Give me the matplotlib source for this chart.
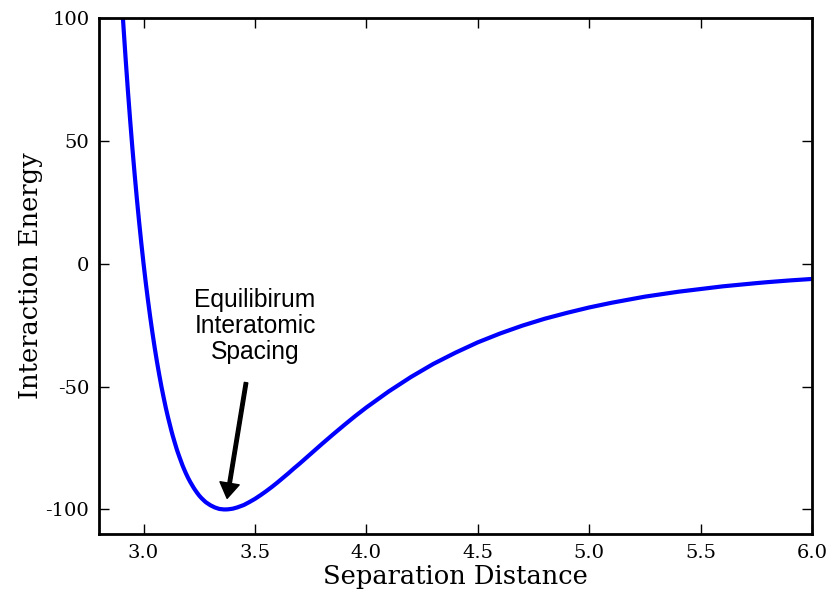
import matplotlib
matplotlib.use("Agg")
import matplotlib.pyplot as plt

# Interaction energy
separation = [2.88, 2.90, 2.91, 2.92, 2.93, 2.94, 2.95, 2.96, 2.97, 2.98, 2.99,
              3.00, 3.01, 3.02, 3.03, 3.04, 3.05, 3.06, 3.07, 3.08, 3.09,
              3.10, 3.11, 3.125, 3.13, 3.14, 3.15, 3.16, 3.175, 3.18, 3.19,
              3.20, 3.21, 3.225, 3.23, 3.24, 3.25, 3.26, 3.275, 3.28, 3.30,
              3.32, 3.34, 3.35, 3.36, 3.37, 3.38, 3.40, 3.42, 3.45, 3.475,
              3.50, 3.525, 3.55, 3.575, 3.60, 3.625, 3.65, 3.675, 3.70, 3.75,
              3.80, 3.85, 3.90, 3.95, 4.00, 4.10, 4.20, 4.30, 4.40, 4.50,
              4.60, 4.70, 4.80, 4.90, 5.00, 5.10, 5.25, 5.40, 5.50, 5.60,
              5.75, 5.80, 5.90, 6.00]
energy = [141.8, 110.6, 96.3, 82.8, 70.1, 58.2, 46.9, 36.4, 26.4, 17.1, 8.3,
          0.0, -7.8, -15.0, -21.8, -28.2, -34.2, -39.8, -45.0, -49.9, -54.4,
          -58.7, -62.6, -68.0, -69.7, -72.8, -75.8, -78.4, -82.1, -83.2, -85.3,
          -87.2, -88.9, -91.2, -91.9, -93.2, -94.4, -95.4, -96.7, -97.1, -98.3,
          -99.2, -99.8, -99.9, -100.0, -100.0, -99.95, -99.7, -99.2, -98.2, -97.0,
          -95.7, -94.2, -92.6, -90.9, -89.1, -87.2, -85.3, -83.3, -81.4, -77.4,
          -73.4, -69.5, -65.7, -62.0, -58.5, -52.0, -46.1, -40.8, -36.2, -32.0,
          -28.4, -25.2, -22.4, -20.0, -17.8, -15.9, -13.4, -11.4, -10.3, -9.2,
          -7.9, -7.5, -6.8, -6.2]

xticks = [3.0, 3.5, 4.0, 4.5, 5.0, 5.5, 6.0]
yticks = [-100, -50, 0, 50, 100]

fig = plt.figure(figsize=(8.34, 5.93), dpi=100)
ax = fig.add_axes([0.1187, 0.0995, 0.8549, 0.8701])

ax.plot(separation, energy, color="blue", linewidth=3, solid_joinstyle="round")
ax.set_xlim(2.8, 6.0)
ax.set_ylim(-110, 100)

ax.set_xticks(xticks)
ax.set_yticks(yticks)
ax.set_xticklabels(["%.1f" % t for t in xticks], family="DejaVu Serif", fontsize=14)
ax.set_yticklabels([str(t) for t in yticks], family="DejaVu Serif", fontsize=14)
ax.tick_params(direction="in", length=7, width=1, top=True, right=True, pad=7)
for s in ax.spines.values():
    s.set_linewidth(2)

ax.set_xlabel("Separation Distance", family="DejaVu Serif", fontsize=18.5, labelpad=2)
ax.set_ylabel("Interaction Energy", family="DejaVu Serif", fontsize=18.5, labelpad=2)

# label and arrow
ax.text(3.5, -41, "Equilibirum\nInteratomic\nSpacing", ha="center", va="bottom",
        fontsize=17.7, family="Liberation Sans", multialignment="center",
        linespacing=1.12)
ax.annotate("", xy=(3.375, -95.5), xytext=(3.46, -48.4),
            arrowprops=dict(facecolor="black", edgecolor="black", width=2.5,
                            headwidth=14, headlength=11, shrink=0.0))

fig.savefig("out.png", dpi=100)
